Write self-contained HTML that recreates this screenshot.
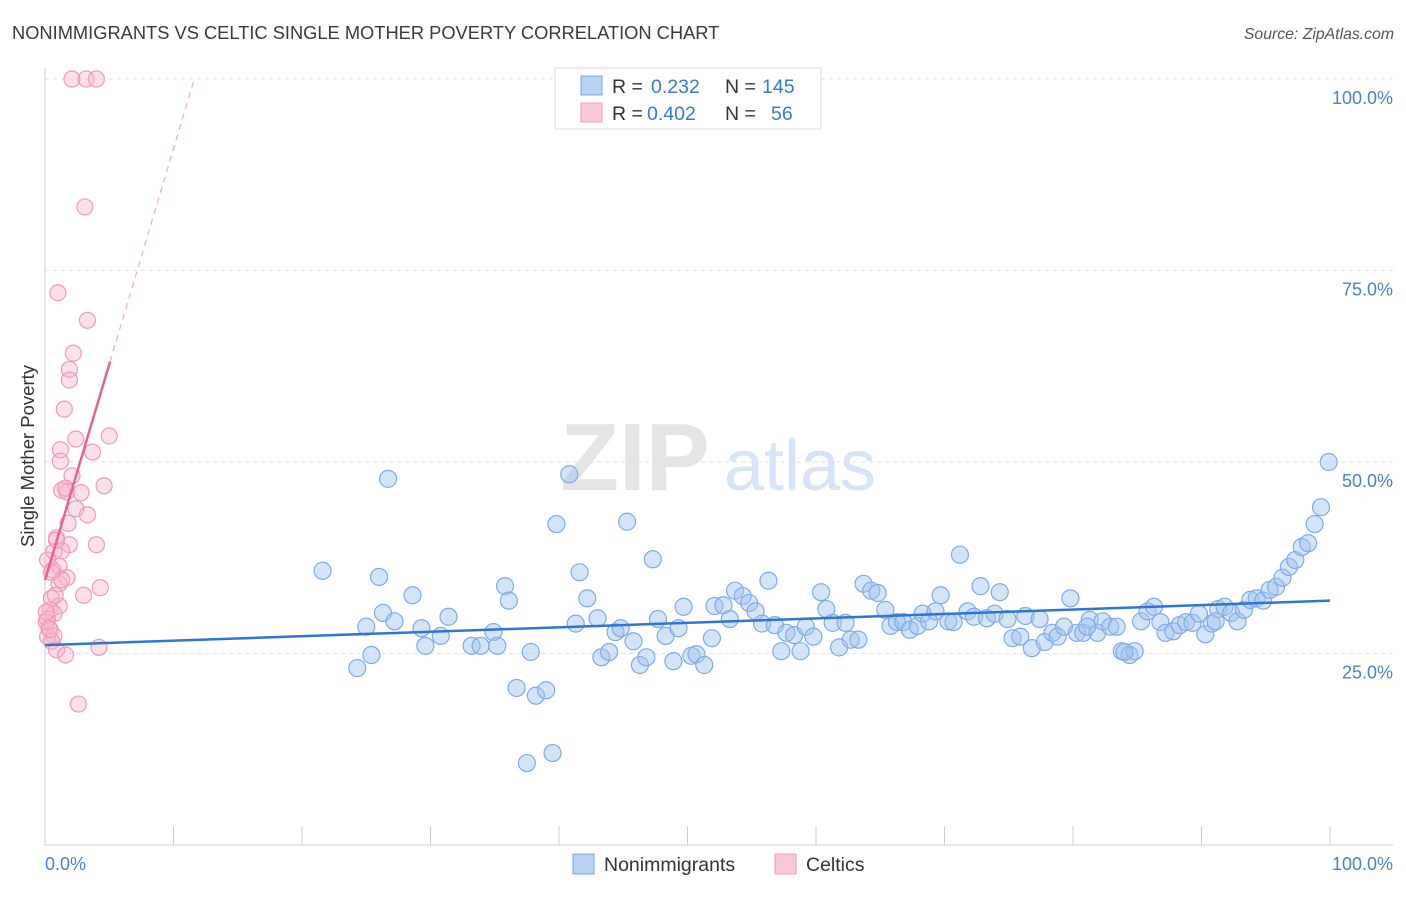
<!DOCTYPE html>
<html><head><meta charset="utf-8"><style>
body{margin:0;background:#fff;font-family:"Liberation Sans",sans-serif;}
svg text{font-family:"Liberation Sans",sans-serif;}
</style></head><body>
<svg id="chart" width="1406" height="892" viewBox="0 0 1406 892" xmlns="http://www.w3.org/2000/svg">
<text x="12" y="39" font-size="18.3" fill="#3a3a3a">NONIMMIGRANTS VS CELTIC SINGLE MOTHER POVERTY CORRELATION CHART</text>
<text x="1394" y="39" font-size="15.8" fill="#555" text-anchor="end" font-style="italic">Source: ZipAtlas.com</text>
<g>
<text x="635" y="490" font-size="96" fill="#e4e4e4" text-anchor="middle" font-family="Liberation Serif" font-weight="bold">ZIP</text>
<text x="800" y="490" font-size="72" fill="#d6e4f5" text-anchor="middle">atlas</text>
</g>
<g id="grid"></g><g id="axes"></g><g id="marks"></g>
<text transform="translate(34,456) rotate(-90)" font-size="18.5" fill="#333" text-anchor="middle">Single Mother Poverty</text>
<text x="45" y="870" font-size="18" fill="#4a7fd6">0.0%</text>
<text x="1393" y="870" font-size="18" fill="#4a7fd6" text-anchor="end">100.0%</text>
<g>
<rect x="555" y="68" width="266" height="61" fill="#fff" stroke="#ddd"/>
<rect x="581" y="76" width="21" height="19" fill="#b8d2f4" stroke="#7aa7e6"/>
<rect x="581" y="103" width="21" height="19" fill="#fbc8d7" stroke="#f09ab5"/>
<text x="612" y="93" font-size="19.5" fill="#333">R = <tspan x="651" fill="#3a78d8">0.232</tspan><tspan x="725">N = </tspan><tspan x="762" fill="#3a78d8">145</tspan></text>
<text x="612" y="120" font-size="19.5" fill="#333">R = <tspan x="647" fill="#3a78d8">0.402</tspan><tspan x="725">N = </tspan><tspan x="771" fill="#3a78d8">56</tspan></text>
</g>
<g>
<rect x="573" y="854" width="21" height="20" fill="#b8d2f4" stroke="#7aa7e6"/>
<text x="604" y="871" font-size="19.5" fill="#333">Nonimmigrants</text>
<rect x="775" y="854" width="21" height="20" fill="#fbc8d7" stroke="#f09ab5"/>
<text x="806" y="871" font-size="19.5" fill="#333">Celtics</text>
</g>
</svg>
<script>
const yTicks=[25,50,75,100];
const yTickLabels=["25.0%","50.0%","75.0%","100.0%"];
const xTicks=[0,10,20,30,40,50,60,70,80,90,100];
const blueX=[21.6,25.0,25.4,24.3,26.0,26.3,27.2,28.6,29.3,29.6,30.8,31.4,33.2,33.9,34.9,35.2,35.8,36.1,36.7,37.8,38.2,39.0,39.5,37.5,39.8,40.8,26.7,41.6,41.3,42.2,43.0,43.3,43.9,44.4,44.8,45.3,45.8,46.3,46.8,47.3,47.7,48.3,48.9,49.3,49.7,50.3,50.7,51.3,51.9,52.1,52.8,53.3,53.7,54.3,54.8,55.3,55.8,56.3,56.8,57.3,57.7,58.3,58.8,59.2,59.8,60.4,60.8,61.3,61.8,62.3,62.7,63.3,63.7,64.3,64.8,65.4,65.8,66.3,66.8,67.3,67.9,68.3,68.8,69.3,69.7,70.3,70.7,71.2,71.8,72.3,72.8,73.3,73.9,74.3,74.9,75.3,75.9,76.3,76.8,77.4,77.8,78.4,78.8,79.3,79.8,80.3,80.8,81.3,81.9,82.3,82.9,83.4,83.8,84.4,84.8,85.3,85.8,86.3,86.8,87.2,87.8,88.3,88.8,89.3,89.8,90.3,90.8,91.3,91.8,92.3,92.8,93.3,93.8,94.3,94.8,95.3,95.8,96.3,96.8,97.3,97.8,98.3,98.8,99.3,99.9,84.0,81.1,91.1];
const blueY=[35.8,28.5,24.8,23.1,35.0,30.3,29.2,32.6,28.3,26.0,27.3,29.8,26.0,26.0,27.8,26.0,33.8,31.9,20.5,25.2,19.5,20.2,12.0,10.7,41.9,48.4,47.8,35.6,28.9,32.2,29.6,24.5,25.2,27.8,28.3,42.2,26.6,23.5,24.5,37.3,29.5,27.3,24.0,28.3,31.1,24.7,24.9,23.5,27.0,31.2,31.3,29.5,33.2,32.5,31.6,30.5,28.9,34.5,28.7,25.3,27.7,27.4,25.3,28.5,27.2,33.0,30.8,29.0,25.8,29.0,26.8,26.8,34.1,33.2,32.9,30.7,28.6,29.1,29.1,28.1,28.6,30.2,29.2,30.5,32.6,29.2,29.1,37.9,30.5,29.8,33.8,29.6,30.2,33.0,29.5,27.0,27.2,29.9,25.7,29.5,26.5,27.7,27.2,28.5,32.2,27.7,27.7,29.4,27.7,29.2,28.5,28.5,25.3,24.8,25.3,29.2,30.5,31.1,29.1,27.7,27.9,28.7,29.1,29.0,30.2,27.5,28.9,30.8,31.1,30.3,29.2,30.7,32.0,32.2,31.9,33.3,33.7,34.9,36.3,37.2,38.9,39.4,41.9,44.1,50.0,25.2,28.5,29.2];
const pinkX=[2.1,3.2,4.0,3.1,1.0,3.3,2.2,1.9,1.9,1.5,5.0,2.4,1.2,3.7,1.2,2.1,1.3,1.7,2.8,4.6,2.4,3.3,1.8,4.0,0.9,1.9,1.3,0.7,1.1,0.6,1.7,1.1,4.3,3.0,0.5,1.1,0.4,0.7,0.2,0.1,0.3,0.7,0.2,0.5,0.9,1.6,4.2,2.6,0.8,1.3,0.4,0.1,0.2,0.9,1.6,0.5];
const pinkY=[100,100,100,83.3,72.1,68.5,64.2,62.1,60.7,56.9,53.4,53.0,51.6,51.3,50.1,48.2,46.3,46.1,46.0,46.9,43.9,43.1,42.0,39.2,40.1,39.2,38.4,38.3,36.4,35.9,34.9,34.1,33.6,32.6,32.2,31.2,30.7,30.2,29.5,29.1,28.3,27.3,27.2,26.6,25.5,24.8,25.8,18.4,32.6,34.6,28.1,30.4,37.2,39.8,46.6,35.6];
const blueTrend=[26.1,31.9];
const pinkTrend=[34.6,5.63];
const pinkSolidEnd=5.06;

const NS="http://www.w3.org/2000/svg";
const sx=v=>45+v*12.85;
const sy=v=>845-v*7.66;
function mk(tag,attrs,parent){const e=document.createElementNS(NS,tag);for(const k in attrs)e.setAttribute(k,attrs[k]);parent.appendChild(e);return e;}
const grid=document.getElementById('grid'),axes=document.getElementById('axes'),marks=document.getElementById('marks');
yTicks.forEach((t,i)=>{
 const l=mk('line',{x1:45,x2:1393,y1:sy(t),y2:sy(t),stroke:'#e2e2e2','stroke-dasharray':'4,4'},grid);
 
 
 const tx=mk('text',{x:1393,y:sy(t)+25,'font-size':18,fill:'#4a7fd6','text-anchor':'end'},grid);
 tx.textContent=yTickLabels[i];
 
 
});
const ya=mk('line',{x1:45,x2:45,y1:68,y2:845,stroke:'#ccc'},axes);


const xa=mk('line',{x1:45,x2:1393,y1:845,y2:845,stroke:'#ccc'},axes);


xTicks.forEach(t=>{
 const l=mk('line',{x1:sx(t),x2:sx(t),y1:826,y2:845,stroke:'#ccc'},axes);
 
 
});
blueX.forEach((x,i)=>{
 const c=mk('circle',{cx:sx(x),cy:sy(blueY[i]),r:8.5,fill:'rgba(160,196,240,0.45)',stroke:'#7fabe6','stroke-width':1.2},marks);
 
 
});
pinkX.forEach((x,i)=>{
 const c=mk('circle',{cx:sx(x),cy:sy(pinkY[i]),r:8,fill:'rgba(248,180,202,0.4)',stroke:'#f09ab5','stroke-width':1.2},marks);
 
 
});
const bt=mk('line',{x1:sx(0),y1:sy(blueTrend[0]),x2:sx(100),y2:sy(blueTrend[1]),stroke:'#2f74d6','stroke-width':2.5},marks);


const xEnd=(100-pinkTrend[0])/pinkTrend[1];
const pd=mk('line',{x1:sx(pinkSolidEnd),y1:sy(pinkTrend[0]+pinkTrend[1]*pinkSolidEnd),x2:sx(xEnd),y2:sy(100),stroke:'#f4a6bf','stroke-width':1.2,'stroke-dasharray':'6,5'},marks);


const ps=mk('line',{x1:sx(0),y1:sy(pinkTrend[0]),x2:sx(pinkSolidEnd),y2:sy(pinkTrend[0]+pinkTrend[1]*pinkSolidEnd),stroke:'#e8628f','stroke-width':2.5},marks);


</script>
</body></html>
